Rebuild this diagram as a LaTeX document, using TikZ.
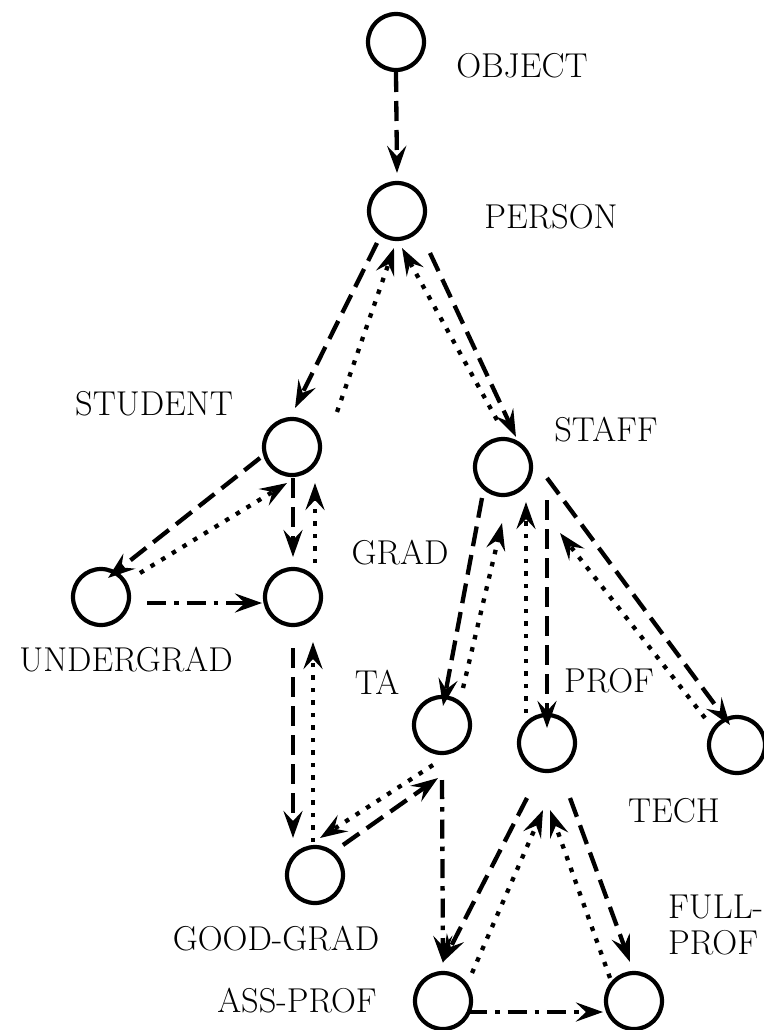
\documentclass[tikz,border=0pt]{standalone}
\usetikzlibrary{arrows.meta,calc}

\begin{document}
\begin{tikzpicture}[x=1pt,y=-1pt,
    cls/.style={circle,draw,line width=4.2pt,minimum size=56pt,inner sep=0pt},
    lbl/.style={font=\fontsize{34.5}{36}\selectfont,inner sep=0pt},
    link/.style={line width=4.3pt,-{Stealth[length=27pt,width=19pt,inset=10pt]}},
    isa/.style={link,dash pattern=on 20pt off 9pt},
    back/.style={link,dash pattern=on 4.5pt off 8pt},
    sib/.style={link,dash pattern=on 19pt off 8pt on 4.5pt off 8pt}]
        \useasboundingbox (0,0) rectangle (763,1030);

        % Classes
        \node[cls] (object) at (396,42) {};
        \node[cls] (person) at (397,211) {};
        \node[cls] (student) at (292,447) {};
        \node[cls] (staff) at (503,467) {};
        \node[cls] (undergrad) at (101,597) {};
        \node[cls] (grad) at (293,597) {};
        \node[cls] (ta) at (442,725) {};
        \node[cls] (prof) at (547,743) {};
        \node[cls] (tech) at (737,745) {};
        \node[cls] (goodgrad) at (315,875) {};
        \node[cls] (assprof) at (443,1001) {};
        \node[cls] (fullprof) at (634,1001) {};

        % Names of the classes
        \node[lbl] (objectname) at (522,66) {OBJECT};
        \node[lbl] (personname) at (551,217) {PERSON};
        \node[lbl] (studentname) at (154,404) {STUDENT};
        \node[lbl] (staffname) at (606,430) {STAFF};
        \node[lbl] (gradname) at (400,553) {GRAD};
        \node[lbl] (undergradname) at (126,660) {UNDERGRAD};
        \node[lbl] (taname) at (377,682) {TA};
        \node[lbl] (profname) at (609,681) {PROF};
        \node[lbl] (techname) at (674,811) {TECH};
        \node[lbl] (goodgradname) at (276,939) {GOOD-GRAD};
        \node[lbl] (assprofname) at (297,1001) {ASS-PROF};
        \node[lbl,align=left,anchor=west] (fullprofname) at (668,925) {FULL-\\PROF};

        % Down links (dashed)
        \draw[isa] ($(object)+(0,30)$) -- ($(person)+(0,-38)$);
        \draw[isa] ($(person)+(-20,32)$) -- ($(student)+(3,-39)$);
        \draw[isa] ($(person)+(33,42)$) -- ($(staff)+(13,-30)$);
        \draw[isa] ($(student)+(-32,11)$) -- ($(undergrad)+(7,-19)$);
        \draw[isa] ($(student)+(1,31)$) -- ($(grad)+(0,-40)$);
        \draw[isa] ($(grad)+(0,51)$) -- ($(goodgrad)+(-22,-37)$);
        \draw[isa] ($(goodgrad)+(28,-30)$) -- ($(ta)+(-4,53)$);
        \draw[isa] ($(staff)+(-21,31)$) -- ($(ta)+(1,-19)$);
        \draw[isa] ($(staff)+(44,33)$) -- ($(prof)+(0,-15)$);
        \draw[isa] ($(staff)+(44,11)$) -- ($(tech)+(-7,-20)$);
        \draw[isa] ($(prof)+(-20,55)$) -- ($(assprof)+(0,-39)$);
        \draw[isa] ($(prof)+(23,55)$) -- ($(fullprof)+(-4,-39)$);

        % Up links (dotted)
        \draw[back] ($(student)+(45,-35)$) -- ($(person)+(-3,37)$);
        \draw[back] ($(staff)+(-6,-47)$) -- ($(person)+(5,37)$);
        \draw[back] ($(undergrad)+(39,-24)$) -- ($(student)+(-5,36)$);
        \draw[back] ($(grad)+(22,-34)$) -- ($(student)+(23,36)$);
        \draw[back] ($(goodgrad)+(-2,-33)$) -- ($(grad)+(20,45)$);
        \draw[back] ($(ta)+(-9,40)$) -- ($(goodgrad)+(5,-37)$);
        \draw[back] ($(ta)+(21,-37)$) -- ($(staff)+(-1,56)$);
        \draw[back] ($(prof)+(-21,-30)$) -- ($(staff)+(23,35)$);
        \draw[back] ($(tech)+(-32,-27)$) -- ($(staff)+(57,66)$);
        \draw[back] ($(assprof)+(29,-28)$) -- ($(prof)+(-4,67)$);
        \draw[back] ($(fullprof)+(-24,-23)$) -- ($(prof)+(3,67)$);

        % Side links (dash-dot)
        \draw[sib] ($(undergrad)+(46,6)$) -- ($(grad)+(-31,6)$);
        \draw[sib] ($(ta)+(0,55)$) -- ($(assprof)+(0,-38)$);
        \draw[sib] ($(assprof)+(25,11)$) -- ($(fullprof)+(-31,11)$);
    \end{tikzpicture}
\end{document}
